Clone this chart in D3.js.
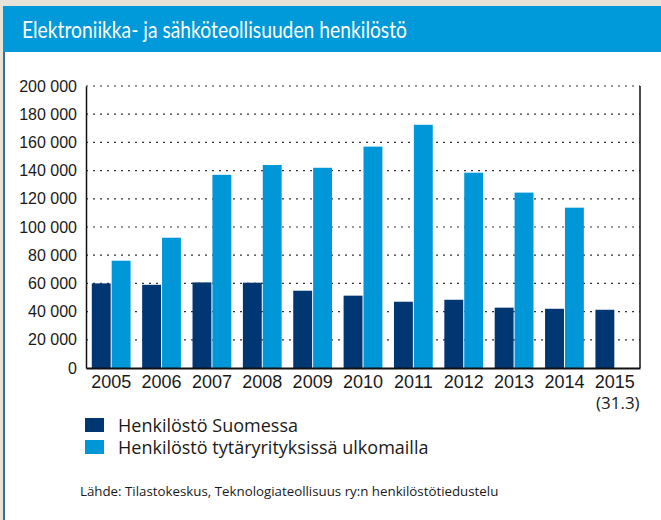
<!DOCTYPE html>
<html>
<head>
<meta charset="utf-8">
<script src="https://cdnjs.cloudflare.com/ajax/libs/d3/7.8.5/d3.min.js"></script>
<style>
    body { margin: 0; background: #e7e3d8; }
    svg { display: block; font-family: "Open Sans", "Noto Sans", sans-serif; }
</style>
</head>
<body>
<svg id="chart"></svg>
<script>
const years = ["2005", "2006", "2007", "2008", "2009", "2010", "2011", "2012", "2013", "2014", "2015"];
const yearNotes = ["", "", "", "", "", "", "", "", "", "", "(31.3)"];
const finland = [60000, 59000, 60700, 60500, 54800, 51300, 47000, 48400, 42800, 42000, 41300];
const abroad = [76100, 92400, 137000, 144000, 142000, 157000, 172500, 138500, 124400, 113700, null];
const yTicks = [0, 20000, 40000, 60000, 80000, 100000, 120000, 140000, 160000, 180000, 200000];
const seriesNames = ["Henkilöstö Suomessa", "Henkilöstö tytäryrityksissä ulkomailla"];
const colors = ["#003672", "#0097d9"];

const width = 661;
const height = 520;
const margin = { top: 86, right: 21, bottom: 152, left: 86 };

const svg = d3.select("#chart").attr("width", width).attr("height", height);

// panel and title bar
svg.append("rect").attr("x", 0).attr("y", 0).attr("width", width).attr("height", height).attr("fill", "#e7e3d8");
svg.append("rect").attr("x", 3).attr("y", 6).attr("width", width - 3).attr("height", height - 6).attr("fill", "#fff");
svg.append("rect").attr("x", 3).attr("y", 52).attr("width", 2).attr("height", height - 52).attr("fill", "#3d6b9c");
svg.append("rect").attr("x", 3).attr("y", 6).attr("width", width - 3).attr("height", 46).attr("fill", "#0099d9");
svg.append("text")
    .attr("x", 22).attr("y", 38)
    .attr("fill", "#fff")
    .style("font-family", "Lato, 'Open Sans', sans-serif")
    .style("font-size", "23px")
    .attr("textLength", 385)
    .attr("lengthAdjust", "spacingAndGlyphs")
    .text("Elektroniikka- ja sähköteollisuuden henkilöstö");

const x = d3.scaleBand()
    .domain(years)
    .range([margin.left, width - margin.right])
    .paddingInner(0.23)
    .paddingOuter(0.115);

const xSub = d3.scaleBand()
    .domain([0, 1])
    .range([0, x.bandwidth()])
    .paddingInner(0.05);

const y = d3.scaleLinear()
    .domain([0, 200000])
    .range([height - margin.bottom, margin.top]);

// gridlines
svg.append("g")
    .selectAll("line")
    .data(yTicks.filter(d => d > 0))
    .enter()
    .append("line")
    .attr("x1", margin.left)
    .attr("x2", width - margin.right)
    .attr("y1", d => y(d))
    .attr("y2", d => y(d))
    .attr("stroke", "#333")
    .attr("stroke-width", 1.2)
    .attr("stroke-dasharray", "2,5");

// y axis
const yAxis = svg.append("g")
    .attr("transform", `translate(${margin.left},0)`)
    .call(d3.axisLeft(y).tickValues(yTicks).tickSize(0).tickPadding(9)
        .tickFormat(d => d3.format(",")(d).replace(/,/g, " ")));
yAxis.select(".domain").attr("stroke", "#111").attr("stroke-width", 1.5);
yAxis.selectAll("text").style("font-size", "16px").attr("fill", "#1a1a1a");

// right border line
svg.append("line")
    .attr("x1", width - margin.right).attr("x2", width - margin.right)
    .attr("y1", margin.top).attr("y2", y(0))
    .attr("stroke", "#111").attr("stroke-width", 1.5);

// bars
const groups = svg.append("g")
    .selectAll("g")
    .data(years)
    .enter()
    .append("g")
    .attr("transform", d => `translate(${x(d)},0)`);

[finland, abroad].forEach((series, s) => {
    groups.filter((d, i) => series[i] != null)
        .append("rect")
        .attr("x", xSub(s))
        .attr("width", xSub.bandwidth())
        .attr("y", (d) => y(series[years.indexOf(d)]))
        .attr("height", (d) => y(0) - y(series[years.indexOf(d)]))
        .attr("fill", colors[s]);
});

// x axis
const xAxis = svg.append("g")
    .attr("transform", `translate(0,${y(0)})`)
    .call(d3.axisBottom(x).tickSize(0).tickPadding(7));
xAxis.select(".domain").attr("stroke", "#111").attr("stroke-width", 1.8);
xAxis.selectAll("text").style("font-size", "18px").attr("fill", "#1a1a1a");

svg.append("g")
    .selectAll("text")
    .data(years)
    .enter()
    .append("text")
    .attr("x", d => x(d) + x.bandwidth() / 2 + 3)
    .attr("y", y(0) + 41)
    .attr("text-anchor", "middle")
    .attr("fill", "#1a1a1a")
    .style("font-size", "17px")
    .text((d, i) => yearNotes[i]);

// legend
const legend = svg.append("g")
    .selectAll("g")
    .data(seriesNames)
    .enter()
    .append("g")
    .attr("transform", (d, i) => `translate(85,${418 + i * 22})`);
legend.append("rect")
    .attr("width", 19).attr("height", 14)
    .attr("fill", (d, i) => colors[i]);
legend.append("text")
    .attr("x", 33).attr("y", 14)
    .attr("fill", "#1a1a1a")
    .style("font-size", "18px")
    .text(d => d);

// source
svg.append("text")
    .attr("x", 80).attr("y", 496)
    .attr("fill", "#1a1a1a")
    .style("font-size", "13.3px")
    .text("Lähde: Tilastokeskus, Teknologiateollisuus ry:n henkilöstötiedustelu");
</script>
</body>
</html>
